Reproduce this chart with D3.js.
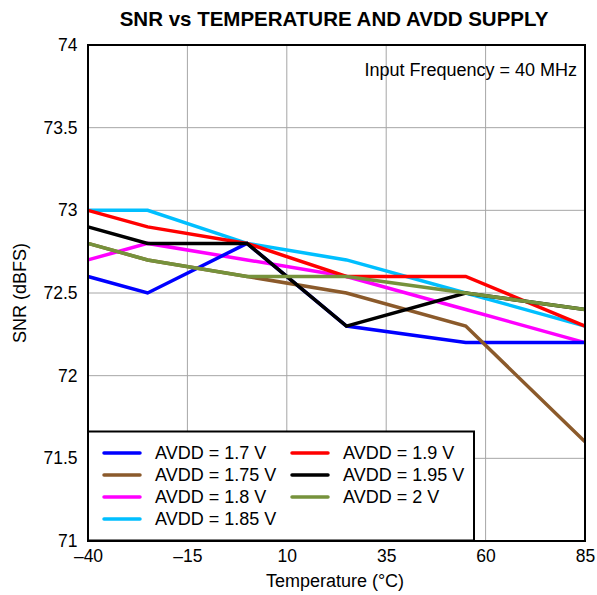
<!DOCTYPE html>
<html>
<head>
<meta charset="utf-8">
<script src="https://cdn.jsdelivr.net/npm/d3@7"></script>
<style>
  body { margin: 0; background: #fff; }
  text { font-family: "Liberation Sans", Arial, sans-serif; }
</style>
</head>
<body>
<svg id="chart" width="597" height="595"></svg>
<script>
// temperatures (°C) where SNR was measured
const temps = [-40, -25, 0, 25, 55, 85];

const avdd17 = [72.6, 72.5, 72.8, 72.3, 72.2, 72.2];
const avdd175 = [72.8, 72.7, 72.6, 72.5, 72.3, 71.6];
const avdd18 = [72.7, 72.8, 72.7, 72.6, 72.4, 72.2];
const avdd185 = [73.0, 73.0, 72.8, 72.7, 72.5, 72.3];
const avdd19 = [73.0, 72.9, 72.8, 72.6, 72.6, 72.3];
const avdd195 = [72.9, 72.8, 72.8, 72.3, 72.5, 72.4];
const avdd2 = [72.8, 72.7, 72.6, 72.6, 72.5, 72.4];

const xTicks = [-40, -15, 10, 35, 60, 85];
const yTicks = [71, 71.5, 72, 72.5, 73, 73.5, 74];

const series = [
  { name: "AVDD = 1.7 V", values: avdd17, color: "#0000ff" },
  { name: "AVDD = 1.75 V", values: avdd175, color: "#8b5a2b" },
  { name: "AVDD = 1.8 V", values: avdd18, color: "#ff00ff" },
  { name: "AVDD = 1.85 V", values: avdd185, color: "#00bfff" },
  { name: "AVDD = 1.9 V", values: avdd19, color: "#ff0000" },
  { name: "AVDD = 1.95 V", values: avdd195, color: "#000000" },
  { name: "AVDD = 2 V", values: avdd2, color: "#76923c" }
];
// order the lines are painted in (last on top)
const drawOrder = [2, 0, 3, 4, 1, 5, 6];

const margin = { top: 45, right: 12, bottom: 54, left: 88 };
const width = 597, height = 595;
const innerW = width - margin.left - margin.right;
const innerH = height - margin.top - margin.bottom;

const svg = d3.select("#chart");

const x = d3.scaleLinear().domain([-40, 85]).range([0, innerW]);
const y = d3.scaleLinear().domain([71, 74]).range([innerH, 0]);

svg.append("text")
  .attr("x", 334).attr("y", 26)
  .attr("text-anchor", "middle")
  .attr("font-size", 20.5).attr("font-weight", "bold")
  .text("SNR vs TEMPERATURE AND AVDD SUPPLY");

const g = svg.append("g").attr("transform", `translate(${margin.left},${margin.top})`);

// grid
g.append("g").selectAll("line").data(xTicks.slice(1, -1)).join("line")
  .attr("x1", d => x(d)).attr("x2", d => x(d))
  .attr("y1", 0).attr("y2", innerH)
  .attr("stroke", "#a6a6a6").attr("stroke-width", 1);
g.append("g").selectAll("line").data(yTicks.slice(1, -1)).join("line")
  .attr("y1", d => y(d)).attr("y2", d => y(d))
  .attr("x1", 0).attr("x2", innerW)
  .attr("stroke", "#a6a6a6").attr("stroke-width", 1);

// axes
const xAxis = g.append("g").attr("transform", `translate(0,${innerH})`)
  .call(d3.axisBottom(x).tickValues(xTicks).tickSize(0).tickPadding(9)
    .tickFormat(d => d < 0 ? "\u2013" + Math.abs(d) : d));
const yAxis = g.append("g")
  .call(d3.axisLeft(y).tickValues(yTicks).tickSize(0).tickPadding(10.5)
    .tickFormat(d => d));
[xAxis, yAxis].forEach(a => {
  a.select(".domain").remove();
  a.selectAll("text").attr("font-size", 17.5).attr("fill", "#000")
    .attr("font-family", "'Liberation Sans', Arial, sans-serif");
});

// lines
const line = d3.line()
  .x((d, i) => x(temps[i]))
  .y(d => y(d));

g.append("g").selectAll("path").data(drawOrder.map(i => series[i])).join("path")
  .attr("d", d => line(d.values))
  .attr("fill", "none")
  .attr("stroke", d => d.color)
  .attr("stroke-width", 3.5)
  .attr("stroke-linejoin", "miter");

// frame
g.append("rect")
  .attr("width", innerW).attr("height", innerH)
  .attr("fill", "none").attr("stroke", "#000").attr("stroke-width", 2);

g.append("text")
  .attr("x", innerW - 8).attr("y", 31)
  .attr("text-anchor", "end").attr("font-size", 18)
  .text("Input Frequency = 40 MHz");

// legend
const legend = g.append("g").attr("transform", `translate(0,${431.5 - margin.top})`);
legend.append("rect")
  .attr("width", 386).attr("height", 109)
  .attr("fill", "#fff").attr("stroke", "#000").attr("stroke-width", 2);

const items = legend.selectAll("g.item").data(series).join("g")
  .attr("class", "item")
  .attr("transform", (d, i) => {
    const col = i < 4 ? 0 : 1;
    const row = i < 4 ? i : i - 4;
    return `translate(${16 + col * 188},${21.5 + row * 22})`;
  });
items.append("line")
  .attr("x1", 0).attr("x2", 36)
  .attr("stroke", d => d.color).attr("stroke-width", 3.5)
  .attr("stroke-linecap", "round");
items.append("text")
  .attr("x", 51).attr("dy", "0.35em")
  .attr("font-size", 18)
  .text(d => d.name);

// axis titles
svg.append("text")
  .attr("x", 335).attr("y", 587)
  .attr("text-anchor", "middle").attr("font-size", 18)
  .text("Temperature (°C)");
svg.append("text")
  .attr("transform", `translate(26,${margin.top + innerH / 2}) rotate(-90)`)
  .attr("text-anchor", "middle").attr("font-size", 18)
  .text("SNR (dBFS)");
</script>
</body>
</html>
